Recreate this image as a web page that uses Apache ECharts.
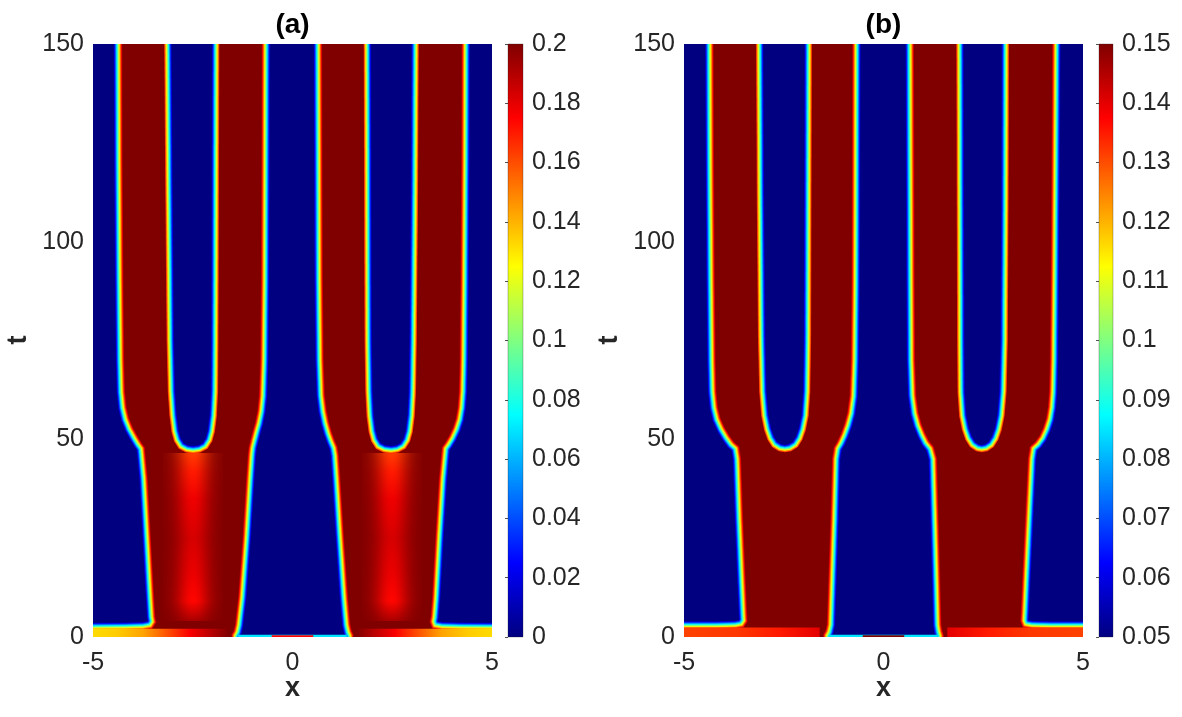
<!DOCTYPE html>
<html><head><meta charset="utf-8">
<script src="https://cdn.jsdelivr.net/npm/echarts@6/dist/echarts.min.js"></script>
<style>html,body{margin:0;padding:0;background:#fff}#c{width:1182px;height:717px}</style>
</head><body><div id="c"></div>
<script>
// ---------------- data ----------------
const xRange = [-5, 5], xStep = 5;
const tRange = [0, 150], tStep = 50;
const aColorRange = [0, 0.2],   aColorStep = 0.02;
const bColorRange = [0.05, 0.15], bColorStep = 0.01;
const titles = ['(a)', '(b)'];

// Panel (a): boundaries [x, t] of the high-u (red) regions
const aLeftRed = [[-4.39,156],[-4.38,150],[-4.37,120],[-4.35,90],[-4.33,70],[-4.31,62],[-4.27,58],[-4.20,55],[-4.10,52.5],[-3.98,50.3],[-3.88,48.6],[-3.81,47.6],[-3.74,40],[-3.66,25],[-3.58,10],[-3.55,5],[-3.53,3.9],[-3.58,3.1],[-3.75,2.8],[-4.2,2.65],[-5,2.6],[-5.6,2.6],[-5.6,-2],[-1.42,-2],[-1.42,0.3],[-1.37,1.2],[-1.33,3],[-1.25,10],[-1.14,25],[-1.05,40],[-1.01,46],[-0.99,47.8],[-0.95,49.5],[-0.90,51.5],[-0.83,54],[-0.77,57],[-0.73,61],[-0.70,70],[-0.68,90],[-0.67,120],[-0.66,150],[-0.66,156]];
const aRightRed = [[0.63,156],[0.63,150],[0.64,120],[0.65,90],[0.67,70],[0.70,61],[0.75,57],[0.81,54],[0.88,51.5],[0.95,49.5],[1.02,47.8],[1.05,46],[1.09,40],[1.18,25],[1.28,10],[1.34,3],[1.38,1.2],[1.42,0.3],[1.42,-2],[5.6,-2],[5.6,2.6],[5,2.6],[4.2,2.65],[3.75,2.8],[3.58,3.1],[3.55,3.9],[3.57,5],[3.61,10],[3.69,25],[3.78,40],[3.85,47.6],[3.92,48.6],[4.02,50.3],[4.12,52.5],[4.20,55],[4.25,58],[4.28,62],[4.30,70],[4.32,90],[4.34,120],[4.35,150],[4.36,156]];
// Panel (a): low-u (blue) U-shaped holes
const aLeftHole = [[-3.14,156],[-3.14,150],[-3.11,110],[-3.08,75],[-3.05,62],[-3.01,56],[-2.96,52],[-2.90,49.8],[-2.80,48.2],[-2.65,47.4],[-2.49,47.2],[-2.33,47.4],[-2.18,48.2],[-2.08,49.8],[-2.02,52],[-1.97,56],[-1.94,62],[-1.93,75],[-1.92,110],[-1.91,150],[-1.91,156]];
const aRightHole = [[1.86,156],[1.86,150],[1.87,110],[1.88,75],[1.90,62],[1.93,56],[1.98,52],[2.04,49.8],[2.14,48.2],[2.30,47.4],[2.47,47.2],[2.63,47.4],[2.78,48.2],[2.88,49.8],[2.94,52],[2.99,56],[3.02,62],[3.04,75],[3.07,110],[3.09,150],[3.09,156]];
// Panel (a): bottom band values along x (t ≈ 0–2)
const aBandLeftX  = [-5, -4.4, -3.74, -3.2, -2.57, -2.0, -1.6];
const aBandLeftU  = [0.132, 0.135, 0.143, 0.158, 0.176, 0.19, 0.2];
const aBandRightX = [1.6, 2.0, 2.57, 3.2, 3.74, 4.4, 5];
const aBandRightU = [0.2, 0.19, 0.176, 0.158, 0.143, 0.135, 0.132];
// Panel (a): lighter core of the lower stripes (peak u along t)
const aGlowX = [-2.49, 2.49];
const aGlowT = [4, 9, 16, 25, 35, 42, 46.6];
const aGlowU = [0.192, 0.174, 0.179, 0.183, 0.178, 0.17, 0.163];
// Panel (a): bottom of the central gap
const aMidLineU = 0.07, aMidBarX = [-0.52, 0.52], aMidBarU = 0.175;

// Panel (b)
const bLeftRed = [[-4.38,156],[-4.37,150],[-4.36,120],[-4.34,90],[-4.32,70],[-4.30,62],[-4.26,58],[-4.19,55],[-4.08,52.5],[-3.95,50.3],[-3.83,48.6],[-3.72,47.6],[-3.68,45],[-3.63,30],[-3.57,15],[-3.53,6],[-3.52,4.2],[-3.57,3.4],[-3.72,3.1],[-4.2,3.0],[-5,3.0],[-5.6,3.0],[-5.6,-2],[-1.40,-2],[-1.40,0.3],[-1.35,1.2],[-1.31,3],[-1.27,15],[-1.22,30],[-1.18,45],[-1.14,47.6],[-1.06,49],[-0.97,51],[-0.88,53.5],[-0.80,56.5],[-0.74,61],[-0.71,70],[-0.69,90],[-0.68,120],[-0.67,150],[-0.67,156]];
const bRightRed = [[0.65,156],[0.65,150],[0.66,120],[0.67,90],[0.68,70],[0.71,61],[0.77,56.5],[0.85,53.5],[0.95,51],[1.05,49],[1.16,47.6],[1.23,45],[1.27,30],[1.31,15],[1.34,3],[1.37,1.2],[1.40,0.3],[1.40,-2],[5.6,-2],[5.6,3.0],[5,3.0],[4.2,3.0],[3.72,3.1],[3.57,3.4],[3.54,4.2],[3.55,6],[3.59,15],[3.66,30],[3.73,45],[3.77,47.6],[3.88,48.6],[4.0,50.3],[4.10,52.5],[4.18,55],[4.23,58],[4.26,62],[4.28,70],[4.30,90],[4.32,120],[4.34,150],[4.34,156]];
const bLeftHole = [[-3.12,156],[-3.12,150],[-3.10,110],[-3.07,75],[-3.04,62],[-2.99,56],[-2.92,52.5],[-2.84,50.2],[-2.74,48.6],[-2.60,47.7],[-2.47,47.5],[-2.34,47.7],[-2.20,48.6],[-2.10,50.2],[-2.02,52.5],[-1.95,56],[-1.91,62],[-1.89,75],[-1.88,110],[-1.87,150],[-1.87,156]];
const bRightHole = [[1.90,156],[1.90,150],[1.91,110],[1.92,75],[1.93,62],[1.97,56],[2.04,52.5],[2.12,50.2],[2.22,48.6],[2.35,47.7],[2.46,47.5],[2.58,47.7],[2.71,48.6],[2.81,50.2],[2.89,52.5],[2.96,56],[3.01,62],[3.04,75],[3.06,110],[3.07,150],[3.07,156]];
const bBandLeftX  = [-5, -3.7, -2.6, -1.6];
const bBandLeftU  = [0.131, 0.132, 0.135, 0.14];
const bBandRightX = [1.6, 2.6, 3.7, 5];
const bBandRightU = [0.14, 0.135, 0.132, 0.131];
const bMidLineU = 0.085, bMidBarX = [-0.52, 0.52], bMidBarU = 0.15;

// ---------------- rendering helpers ----------------
function jet(f) {
  f = Math.max(0, Math.min(1, f));
  const c = v => Math.round(255 * Math.max(0, Math.min(1, v)));
  const r = Math.min(4 * f - 1.5, -4 * f + 4.5);
  const g = Math.min(4 * f - 0.5, -4 * f + 3.5);
  const b = Math.min(4 * f + 0.5, -4 * f + 2.5);
  return 'rgb(' + c(r) + ',' + c(g) + ',' + c(b) + ')';
}
function offsetPoly(pts, d) {
  const n = pts.length;
  let A = 0;
  for (let i = 0; i < n; i++) { const p = pts[i], q = pts[(i + 1) % n]; A += p[0] * q[1] - q[0] * p[1]; }
  const s = A > 0 ? 1 : -1;
  const nrm = (p, q) => { const dx = q[0] - p[0], dy = q[1] - p[1]; const L = Math.hypot(dx, dy) || 1; return [s * dy / L, -s * dx / L]; };
  const out = [];
  for (let i = 0; i < n; i++) {
    const p0 = pts[(i - 1 + n) % n], p1 = pts[i], p2 = pts[(i + 1) % n];
    const n1 = nrm(p0, p1), n2 = nrm(p1, p2);
    let mx = n1[0] + n2[0], my = n1[1] + n2[1];
    const L = Math.hypot(mx, my) || 1; mx /= L; my /= L;
    let k = mx * n1[0] + my * n1[1]; if (k < 0.35) k = 0.35;
    out.push([p1[0] + mx * d / k, p1[1] + my * d / k]);
  }
  return out;
}
const HALO = 4.5, STEP = 0.5;

function buildPanel(cfg) {
  const shapes = [];
  shapes.push({ kind: 'bg' });
  cfg.red.forEach(p => shapes.push({ kind: 'red', pts: p }));
  if (cfg.glowX) cfg.glowX.forEach(gx => shapes.push({ kind: 'glow', x: gx }));
  cfg.bands.forEach(b => shapes.push({ kind: 'band', bx: b[0], bu: b[1] }));
  shapes.push({ kind: 'midline' });
  shapes.push({ kind: 'midbar' });
  cfg.holes.forEach(p => shapes.push({ kind: 'hole', pts: p }));
  const F = u => (u - cfg.range[0]) / (cfg.range[1] - cfg.range[0]);
  function render(params, api) {
    const s = shapes[params.dataIndex];
    const C = p => api.coord(p);
    const rectPts = (x0, x1, t0, t1) => [C([x0, t0]), C([x1, t0]), C([x1, t1]), C([x0, t1])];
    const ch = [];
    if (s.kind === 'bg') {
      ch.push({ type: 'polygon', shape: { points: rectPts(-6, 6, -5, 160) }, style: { fill: jet(0) } });
    } else if (s.kind === 'red' || s.kind === 'hole') {
      const px = s.pts.map(C);
      for (let d = HALO; d >= -HALO - 1e-9; d -= STEP) {
        let f = (HALO - d) / (2 * HALO);
        if (s.kind === 'hole') f = 1 - f;
        if (s.kind === 'hole' && f > 0.88) continue;
        if (s.kind === 'red' && f < 0.04) continue;
        ch.push({ type: 'polygon', shape: { points: offsetPoly(px, d) }, style: { fill: jet(f) } });
      }
    } else if (s.kind === 'band') {
      const xs = s.bx, us = s.bu;
      const x0 = xs[0] < 0 ? -5.6 : xs[0], x1 = xs[0] < 0 ? xs[xs.length - 1] : 5.6;
      const p0 = C([x0, 0]), p1 = C([x1, 0]);
      const stops = xs.map((x, i) => ({ offset: Math.max(0, Math.min(1, (x - x0) / (x1 - x0))), color: jet(F(us[i])) }));
      if (xs[0] < 0) { stops.unshift({ offset: 0, color: jet(F(us[0])) }); stops.push({ offset: 1, color: 'rgba(128,0,0,0)' }); }
      else { stops.unshift({ offset: 0, color: 'rgba(128,0,0,0)' }); stops.push({ offset: 1, color: jet(F(us[us.length - 1])) }); }
      ch.push({ type: 'polygon', shape: { points: rectPts(x0, x1, -2, cfg.bandTop) },
        style: { fill: { type: 'linear', x: p0[0], y: 0, x2: p1[0], y2: 0, global: true, colorStops: stops } } });
    } else if (s.kind === 'glow') {
      const half = 0.75;
      const tt = cfg.glowT;
      const y0 = C([0, tt[0]])[1], y1 = C([0, tt[tt.length - 1]])[1];
      const cx = C([s.x, 0])[0];
      const xa = Math.round(C([s.x - half, 0])[0]), xb = Math.round(C([s.x + half, 0])[0]);
      const hp = (xb - xa) / 2;
      const stops = tt.map((t, i) => ({ offset: (C([0, t])[1] - y1) / (y0 - y1), color: jet(F(cfg.glowU[i])) }));
      for (let px = xa; px < xb; px++) {
        const rel = (px + 0.5 - cx) / hp;
        const op = Math.exp(-rel * rel * 3.2);
        ch.push({ type: 'rect', shape: { x: px, y: Math.round(y1), width: 1, height: Math.round(y0) - Math.round(y1) },
          style: { opacity: op, fill: { type: 'linear', x: 0, y: 0, x2: 0, y2: 1, colorStops: stops } } });
      }
    } else if (s.kind === 'midline') {
      ch.push({ type: 'polygon', shape: { points: rectPts(-1.36, 1.36, -2, 0.55) }, style: { fill: jet(F(cfg.midLineU)) } });
    } else if (s.kind === 'midbar') {
      ch.push({ type: 'polygon', shape: { points: rectPts(cfg.midBarX[0], cfg.midBarX[1], -2, 0.45) }, style: { fill: jet(F(cfg.midBarU)) } });
    }
    return { type: 'group', children: ch };
  }
  return { shapes, render };
}

const panelA = buildPanel({ range: aColorRange, red: [aLeftRed, aRightRed], holes: [aLeftHole, aRightHole],
  bands: [[aBandLeftX, aBandLeftU], [aBandRightX, aBandRightU]], bandTop: 2.1,
  glowX: aGlowX, glowT: aGlowT, glowU: aGlowU, midLineU: aMidLineU, midBarX: aMidBarX, midBarU: aMidBarU });
const panelB = buildPanel({ range: bColorRange, red: [bLeftRed, bRightRed], holes: [bLeftHole, bRightHole],
  bands: [[bBandLeftX, bBandLeftU], [bBandRightX, bBandRightU]], bandTop: 2.4,
  midLineU: bMidLineU, midBarX: bMidBarX, midBarU: bMidBarU });

const jetStops = [];
for (let i = 0; i <= 16; i++) jetStops.push({ offset: i / 16, color: jet(i / 16) });
function colorbarRender(range) {
  return function (params, api) {
    const p0 = api.coord([0, range[0]]), p1 = api.coord([1, range[1]]);
    return { type: 'rect', shape: { x: p0[0], y: p1[1], width: p1[0] - p0[0], height: p0[1] - p1[1] },
      style: { fill: { type: 'linear', x: 0, y: 1, x2: 0, y2: 0, colorStops: jetStops }, stroke: 'rgba(38,38,38,0.5)', lineWidth: 0.6 } };
  };
}

const FONT = '"Liberation Sans", Arial, Helvetica, sans-serif';
const TXT = '#262626';
const FS = 25;
const mainX = i => ({ type: 'value', gridIndex: i, min: xRange[0], max: xRange[1], interval: xStep,
  axisLine: { show: false }, axisTick: { show: false }, splitLine: { show: false },
  axisLabel: { fontSize: FS, color: TXT, fontFamily: FONT, margin: 14 } });
const mainY = i => ({ type: 'value', gridIndex: i, min: tRange[0], max: tRange[1], interval: tStep,
  axisLine: { show: false }, axisTick: { show: false }, splitLine: { show: false },
  axisLabel: { fontSize: FS, color: TXT, fontFamily: FONT, margin: 9 } });
const cbX = i => ({ type: 'value', gridIndex: i, min: 0, max: 1, show: false });
const cbY = (i, r, st) => ({ type: 'value', gridIndex: i, position: 'right', min: r[0], max: r[1], interval: st, z: 10,
  axisLine: { show: false }, splitLine: { show: false },
  axisTick: { show: true, inside: true, length: 3, lineStyle: { color: TXT, width: 0.8 } },
  axisLabel: { fontSize: FS, color: TXT, fontFamily: FONT, margin: 9 } });

const chart = echarts.init(document.getElementById('c'), null, { renderer: 'canvas' });
chart.setOption({
  backgroundColor: '#ffffff',
  animation: false,
  grid: [
    { left: 93, top: 44, width: 399, height: 593 },
    { left: 684, top: 44, width: 399, height: 593 },
    { left: 508, top: 44, width: 15, height: 593 },
    { left: 1099, top: 44, width: 14, height: 593 }
  ],
  xAxis: [mainX(0), mainX(1), cbX(2), cbX(3)],
  yAxis: [mainY(0), mainY(1), cbY(2, aColorRange, aColorStep), cbY(3, bColorRange, bColorStep)],
  series: [
    { type: 'custom', xAxisIndex: 0, yAxisIndex: 0, clip: true, silent: true,
      data: panelA.shapes.map(() => [0, 75]), renderItem: panelA.render },
    { type: 'custom', xAxisIndex: 1, yAxisIndex: 1, clip: true, silent: true,
      data: panelB.shapes.map(() => [0, 75]), renderItem: panelB.render },
    { type: 'custom', xAxisIndex: 2, yAxisIndex: 2, silent: true, data: [[0, aColorRange[0]]], renderItem: colorbarRender(aColorRange) },
    { type: 'custom', xAxisIndex: 3, yAxisIndex: 3, silent: true, data: [[0, bColorRange[0]]], renderItem: colorbarRender(bColorRange) }
  ],
  graphic: [
    { type: 'text', x: 292.5, y: 25, style: { text: titles[0], fontSize: 28, fontWeight: 'bold', fontFamily: FONT, fill: '#000', textAlign: 'center', textVerticalAlign: 'middle' } },
    { type: 'text', x: 883.5, y: 25, style: { text: titles[1], fontSize: 28, fontWeight: 'bold', fontFamily: FONT, fill: '#000', textAlign: 'center', textVerticalAlign: 'middle' } },
    { type: 'text', x: 19, y: 340, rotation: Math.PI / 2, style: { text: 't', fontSize: 27, fontWeight: 'bold', fontFamily: FONT, fill: TXT, textAlign: 'center', textVerticalAlign: 'middle' } },
    { type: 'text', x: 610, y: 340, rotation: Math.PI / 2, style: { text: 't', fontSize: 27, fontWeight: 'bold', fontFamily: FONT, fill: TXT, textAlign: 'center', textVerticalAlign: 'middle' } },
    { type: 'text', x: 292.5, y: 689, style: { text: 'x', fontSize: 27, fontWeight: 'bold', fontFamily: FONT, fill: TXT, textAlign: 'center', textVerticalAlign: 'middle' } },
    { type: 'text', x: 883.5, y: 689, style: { text: 'x', fontSize: 27, fontWeight: 'bold', fontFamily: FONT, fill: TXT, textAlign: 'center', textVerticalAlign: 'middle' } }
  ]
});
</script></body></html>
